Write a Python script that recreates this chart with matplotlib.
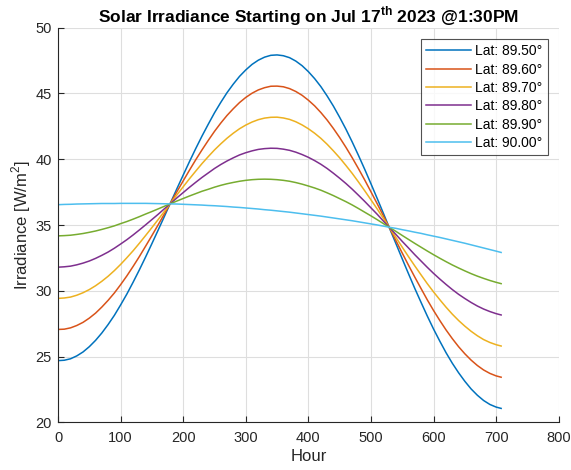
import numpy as np
import matplotlib
matplotlib.use('Agg')
import matplotlib.pyplot as plt

# -------------------------
# data (W/m^2 vs hour)
# -------------------------
hours = [0, 10, 20, 30, 40, 50, 60, 70, 80, 90,
         100, 110, 120, 130, 140, 150, 160, 170, 180, 190,
         200, 210, 220, 230, 240, 250, 260, 270, 280, 290,
         300, 310, 320, 330, 340, 350, 360, 370, 380, 390,
         400, 410, 420, 430, 440, 450, 460, 470, 480, 490,
         500, 510, 520, 530, 540, 550, 560, 570, 580, 590,
         600, 610, 620, 630, 640, 650, 660, 670, 680, 690,
         700, 708]

lat_8950 = [24.70, 24.73, 24.84, 25.06, 25.36, 25.76, 26.24, 26.80, 27.44, 28.14,
            28.93, 29.76, 30.66, 31.60, 32.58, 33.59, 34.62, 35.66, 36.72, 37.77,
            38.80, 39.82, 40.81, 41.76, 42.66, 43.53, 44.32, 45.06, 45.71, 46.30,
            46.79, 47.21, 47.53, 47.76, 47.90, 47.93, 47.87, 47.72, 47.46, 47.11,
            46.66, 46.13, 45.52, 44.81, 44.04, 43.19, 42.29, 41.32, 40.30, 39.24,
            38.14, 37.02, 35.88, 34.72, 33.58, 32.43, 31.30, 30.19, 29.13, 28.09,
            27.10, 26.18, 25.30, 24.50, 23.78, 23.13, 22.55, 22.07, 21.67, 21.37,
            21.17, 21.07]
lat_8960 = [27.07, 27.09, 27.19, 27.37, 27.61, 27.93, 28.31, 28.77, 29.28, 29.84,
            30.47, 31.14, 31.86, 32.61, 33.40, 34.20, 35.02, 35.85, 36.70, 37.54,
            38.36, 39.17, 39.96, 40.71, 41.43, 42.12, 42.75, 43.33, 43.84, 44.31,
            44.70, 45.02, 45.27, 45.44, 45.55, 45.56, 45.51, 45.37, 45.15, 44.86,
            44.49, 44.06, 43.55, 42.98, 42.34, 41.65, 40.91, 40.12, 39.29, 38.43,
            37.53, 36.62, 35.69, 34.75, 33.81, 32.87, 31.95, 31.05, 30.18, 29.32,
            28.51, 27.75, 27.03, 26.37, 25.76, 25.22, 24.74, 24.33, 23.99, 23.73,
            23.54, 23.44]
lat_8970 = [29.43, 29.46, 29.53, 29.67, 29.86, 30.10, 30.39, 30.73, 31.11, 31.54,
            32.01, 32.52, 33.05, 33.62, 34.21, 34.81, 35.42, 36.04, 36.67, 37.30,
            37.91, 38.52, 39.10, 39.67, 40.20, 40.71, 41.17, 41.60, 41.98, 42.32,
            42.60, 42.83, 43.01, 43.13, 43.19, 43.20, 43.14, 43.03, 42.85, 42.61,
            42.32, 41.98, 41.59, 41.14, 40.64, 40.11, 39.53, 38.93, 38.28, 37.61,
            36.92, 36.22, 35.50, 34.77, 34.05, 33.32, 32.60, 31.90, 31.22, 30.55,
            29.92, 29.33, 28.76, 28.23, 27.75, 27.32, 26.93, 26.59, 26.30, 26.08,
            25.91, 25.81]
lat_8980 = [31.80, 31.83, 31.88, 31.98, 32.11, 32.27, 32.47, 32.70, 32.95, 33.24,
            33.56, 33.89, 34.25, 34.63, 35.02, 35.42, 35.82, 36.24, 36.65, 37.07,
            37.47, 37.87, 38.25, 38.62, 38.96, 39.30, 39.60, 39.87, 40.11, 40.33,
            40.50, 40.64, 40.75, 40.81, 40.84, 40.83, 40.77, 40.68, 40.54, 40.36,
            40.15, 39.90, 39.62, 39.30, 38.94, 38.56, 38.16, 37.73, 37.27, 36.80,
            36.31, 35.82, 35.30, 34.79, 34.28, 33.76, 33.26, 32.75, 32.27, 31.79,
            31.33, 30.90, 30.49, 30.10, 29.74, 29.42, 29.12, 28.85, 28.62, 28.43,
            28.27, 28.17]
lat_8990 = [34.18, 34.20, 34.23, 34.29, 34.36, 34.45, 34.55, 34.67, 34.80, 34.94,
            35.11, 35.27, 35.45, 35.64, 35.84, 36.03, 36.23, 36.43, 36.63, 36.83,
            37.02, 37.21, 37.39, 37.57, 37.72, 37.88, 38.02, 38.14, 38.24, 38.33,
            38.40, 38.45, 38.48, 38.49, 38.48, 38.45, 38.40, 38.33, 38.23, 38.11,
            37.97, 37.82, 37.65, 37.45, 37.24, 37.01, 36.78, 36.53, 36.26, 35.98,
            35.70, 35.41, 35.11, 34.81, 34.52, 34.21, 33.91, 33.61, 33.32, 33.03,
            32.75, 32.48, 32.22, 31.97, 31.74, 31.52, 31.31, 31.12, 30.95, 30.79,
            30.65, 30.55]
lat_9000 = [36.55, 36.57, 36.58, 36.60, 36.61, 36.62, 36.63, 36.64, 36.64, 36.64,
            36.65, 36.65, 36.65, 36.65, 36.65, 36.64, 36.63, 36.62, 36.61, 36.60,
            36.58, 36.56, 36.54, 36.52, 36.49, 36.47, 36.44, 36.41, 36.37, 36.34,
            36.30, 36.26, 36.22, 36.17, 36.13, 36.08, 36.03, 35.98, 35.92, 35.86,
            35.80, 35.74, 35.68, 35.61, 35.54, 35.47, 35.40, 35.33, 35.25, 35.17,
            35.09, 35.01, 34.92, 34.83, 34.75, 34.65, 34.56, 34.46, 34.37, 34.26,
            34.16, 34.06, 33.95, 33.84, 33.73, 33.62, 33.50, 33.38, 33.26, 33.14,
            33.02, 32.92]

series = [lat_8950, lat_8960, lat_8970, lat_8980, lat_8990, lat_9000]
labels = ['Lat: 89.50°', 'Lat: 89.60°', 'Lat: 89.70°',
          'Lat: 89.80°', 'Lat: 89.90°', 'Lat: 90.00°']
colors = ['#0072BD', '#D95319', '#EDB120', '#7E2F8E', '#77AC30', '#4DBEEE']

# -------------------------
# MATLAB-ish look
# -------------------------
plt.rcParams['font.family'] = ['Liberation Sans', 'DejaVu Sans']
plt.rcParams['mathtext.fontset'] = 'custom'
plt.rcParams['mathtext.rm'] = 'Liberation Sans'
plt.rcParams['mathtext.bf'] = 'Liberation Sans:bold'
ink = '#262626'

fig = plt.figure(figsize=(5.71, 4.70), dpi=100)
ax = fig.add_axes([0.1016, 0.1011, 0.8769, 0.8400])

for ys, lab, col in zip(series, labels, colors):
    ax.plot(hours, ys, color=col, linewidth=1.1, label=lab)

ax.set_xlim(0, 800)
ax.set_ylim(20, 50)
ax.set_xticks(np.arange(0, 801, 100))
ax.set_yticks(np.arange(20, 51, 5))
ax.grid(True, color='#dedede', linewidth=0.8)
ax.set_axisbelow(True)

for s in ['top', 'right']:
    ax.spines[s].set_visible(False)
for s in ['left', 'bottom']:
    ax.spines[s].set_color(ink)
    ax.spines[s].set_linewidth(0.8)
ax.tick_params(direction='in', length=4, width=0.8, colors=ink, labelsize=10.5)
ax.tick_params(axis='x', pad=6)
ax.tick_params(axis='y', pad=4.5)

ax.set_xlabel('Hour', fontsize=12, color=ink, labelpad=3)
ax.set_ylabel('Irradiance [W/m$^2$]', fontsize=12, color=ink, labelpad=2)
ax.set_title(r'Solar Irradiance Starting on Jul 17$^{\mathbf{th}}$ 2023 @1:30PM',
             fontsize=12.5, fontweight='bold', color='black', pad=4)

leg = ax.legend(loc='upper right', fontsize=10, frameon=True, fancybox=False,
                borderpad=0.4, labelspacing=0.31, handlelength=3.2,
                handletextpad=0.3, borderaxespad=0.8)
leg.get_frame().set_edgecolor(ink)
leg.get_frame().set_linewidth(0.8)

fig.savefig('out.png', dpi=100)
